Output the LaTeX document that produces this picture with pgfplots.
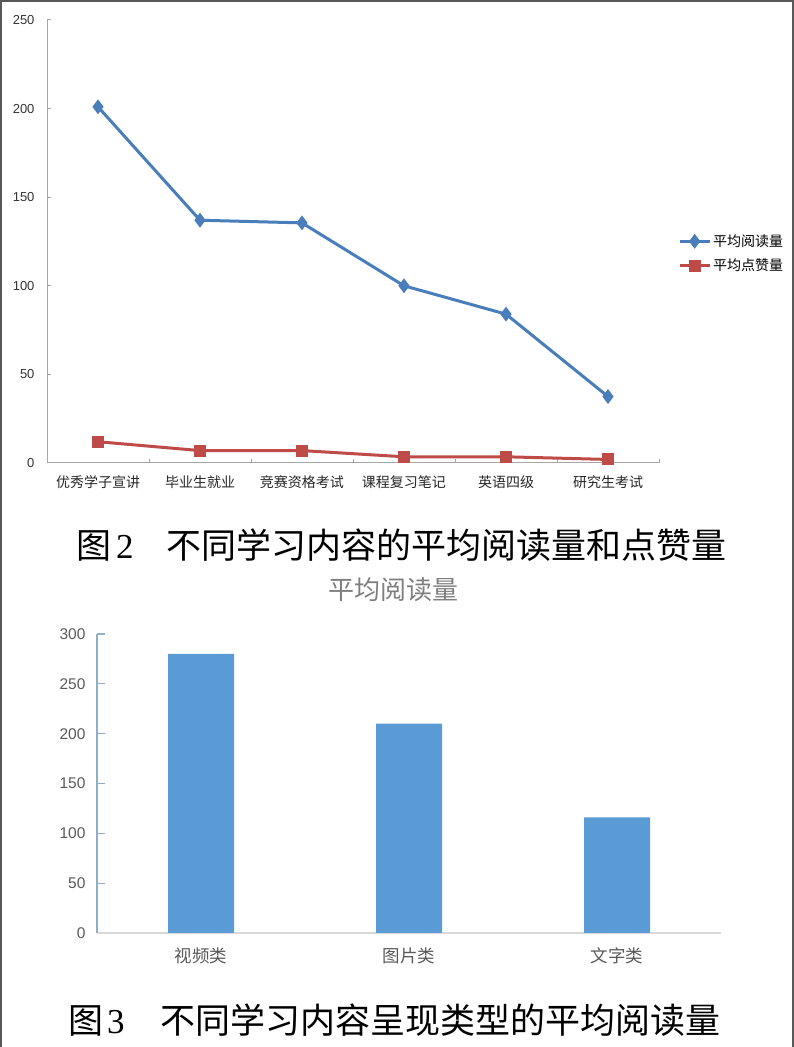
\documentclass[border=0pt]{standalone}
\usepackage{fontspec}
\setmainfont{Liberation Sans}
\newfontfamily\cjk{Noto Sans CJK SC}
\newfontfamily\serif{Liberation Serif}
\usepackage{pgfplots}
\pgfplotsset{compat=1.18}
\definecolor{lblue}{HTML}{4A7EBB}
\definecolor{lred}{HTML}{BE4B48}
\definecolor{barblue}{HTML}{5B9BD5}
\definecolor{axgray}{HTML}{A6A6A6}
\definecolor{lightax}{HTML}{D9D9D9}
\definecolor{txtgray}{HTML}{595959}
\definecolor{yaxblue}{HTML}{8FAFC8}
\definecolor{titlegray}{HTML}{7F7F7F}

\begin{document}
\begin{tikzpicture}[x=1pt,y=1pt]
\useasboundingbox (0,0) rectangle (794,1047);
\draw[line width=2pt, black!65] (1,0) -- (1,1046) -- (793,1046) -- (793,0);

% Figure 2: line chart
\begin{axis}[
  at={(47pt,584pt)}, anchor=south west, scale only axis,
  width=612pt, height=443pt,
  xmin=-0.5, xmax=5.5, ymin=0, ymax=250,
  clip=false,
  /pgf/number format/assume math mode=true,
  axis lines=left,
  axis line style={-, draw=axgray, line width=1pt},
  tick align=inside, major tick length=4pt,
  tick style={draw=axgray, line width=1pt},
  ytick={0,50,...,250},
  xtick={-0.5,0.5,...,5.5}, xticklabels={},
  extra x ticks={0,1,2,3,4,5},
  extra x tick labels={优秀学子宣讲,毕业生就业,竞赛资格考试,课程复习笔记,英语四级,研究生考试},
  extra x tick style={major tick length=0pt},
  x tick label style={font=\cjk\fontsize{14}{16}\selectfont, text=black!85, yshift=-9pt},
  y tick label style={font=\fontsize{13}{15}\selectfont, text=black!80, xshift=-9pt},
  legend style={at={(1,0.473)}, anchor=west, xshift=16pt, draw=none, fill=none,
    font=\cjk\fontsize{14}{16}\selectfont, row sep=7pt},
  legend cell align=left,
  legend image code/.code={\draw[mark repeat=2,mark phase=2,#1] plot coordinates {(0pt,0pt) (15pt,0pt) (30pt,0pt)};},
]
\addplot[lblue, line width=3pt, mark=diamond*, mark size=5pt, mark options={solid}] coordinates {
  (0,201) (1,137) (2,135.5) (3,100) (4,84) (5,37.5)
};
\addlegendentry{平均阅读量}
\addplot[lred, line width=3pt, mark=square*, mark size=4.5pt, mark options={solid}] coordinates {
  (0,12) (1,7) (2,7) (3,3.5) (4,3.5) (5,2)
};
\addlegendentry{平均点赞量}
\end{axis}

\node[anchor=base west, inner sep=0pt] at (76,488.7) {\cjk\fontsize{35}{40}\selectfont 图};
\node[anchor=base west, inner sep=0pt] at (116,488.7) {\serif\fontsize{35}{40}\selectfont 2};
\node[anchor=base west, inner sep=0pt] at (166,488.7) {\cjk\fontsize{35}{40}\selectfont 不同学习内容的平均阅读量和点赞量};

% Figure 3: bar chart
\node[text=titlegray, inner sep=0pt] at (393,457) {\cjk\fontsize{26}{30}\selectfont 平均阅读量};
\begin{axis}[
  at={(97pt,114pt)}, anchor=south west, scale only axis,
  width=624pt, height=299pt,
  xmin=-0.5, xmax=2.5, ymin=0, ymax=300,
  /pgf/number format/assume math mode=true,
  axis lines=left,
  x axis line style={-, draw=lightax, line width=1.2pt},
  y axis line style={-, draw=yaxblue, line width=1.2pt},
  tick align=inside, major tick length=8pt,
  ytick style={draw=yaxblue, line width=1.2pt},
  xtick style={draw=none},
  ytick={0,50,...,300},
  xtick={0,1,2}, xticklabels={视频类,图片类,文字类},
  x tick label style={font=\cjk\fontsize{17.5}{20}\selectfont, text=txtgray, yshift=-11pt},
  y tick label style={font=\fontsize{15.5}{18}\selectfont, text=txtgray, xshift=-8pt},
]
\addplot[ybar, bar width=66pt, bar shift=0pt, fill=barblue, draw=none] coordinates {
  (0,280) (1,210) (2,116)
};
\end{axis}

\node[anchor=base west, inner sep=0pt] at (68,13.7) {\cjk\fontsize{35}{40}\selectfont 图};
\node[anchor=base west, inner sep=0pt] at (107,13.7) {\serif\fontsize{35}{40}\selectfont 3};
\node[anchor=base west, inner sep=0pt] at (160,13.7) {\cjk\fontsize{35}{40}\selectfont 不同学习内容呈现类型的平均阅读量};
\end{tikzpicture}
\end{document}
